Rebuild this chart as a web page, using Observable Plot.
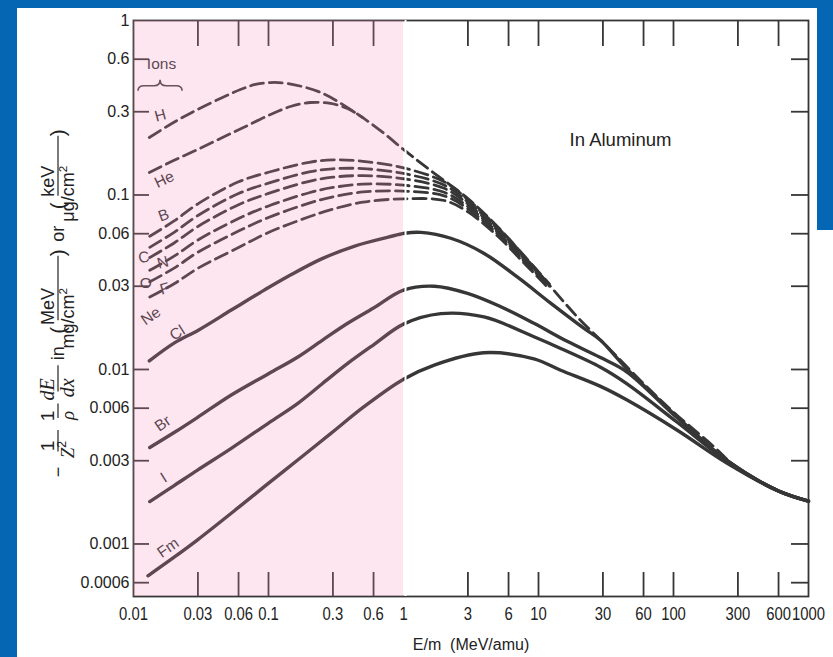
<!DOCTYPE html>
<html>
<head>
<meta charset="utf-8">
<title>Stopping power of ions in aluminum</title>
<script src="https://cdn.jsdelivr.net/npm/d3@7"></script>
<script src="https://cdn.jsdelivr.net/npm/@observablehq/plot@0.6"></script>
<style>
  html, body { margin: 0; padding: 0; background: #fff; }
  #page { position: relative; width: 833px; height: 657px; overflow: hidden; background: #fff; }
  #chart { position: absolute; left: 0; top: 0; }
  .edge { position: absolute; background: #0567b3; }
</style>
</head>
<body>
<div id="page">
  <div id="chart"></div>
  <div class="edge" style="left:0;top:0;width:17px;height:657px"></div>
  <div class="edge" style="left:0;top:0;width:833px;height:8px"></div>
  <div class="edge" style="left:817px;top:0;width:16px;height:230px"></div>
</div>
<script>
// Reduced stopping power -(1/Z²)(1/ρ)dE/dx versus energy per nucleon E/m (MeV/amu)

const H_E = [0.0131, 0.0198, 0.0298, 0.0456, 0.062, 0.080, 0.1035, 0.138, 0.243, 0.426, 0.675, 1.02, 1.59, 3, 5, 8.75, 19.4, 30, 60, 100, 200, 300, 600, 1000];
const H_S = [0.2136, 0.2603, 0.309, 0.362, 0.402, 0.430, 0.441, 0.4355, 0.387, 0.301, 0.234, 0.180, 0.138, 0.0953, 0.0656, 0.0405, 0.020, 0.0143, 0.0083, 0.0057, 0.0036, 0.0027, 0.00202, 0.00176];

const He_E = [0.0131, 0.0198, 0.0298, 0.0456, 0.0676, 0.1035, 0.1455, 0.205, 0.288, 0.385, 0.497];
const He_S = [0.1346, 0.1576, 0.1823, 0.2136, 0.2469, 0.2892, 0.3214, 0.3389, 0.3345, 0.3131, 0.278];

const light_E = [0.0132, 0.02, 0.03, 0.06, 0.1, 0.2, 0.3, 0.5, 1, 2, 3, 5, 8, 12];
const B_S  = [0.058, 0.071, 0.089, 0.119, 0.135, 0.154, 0.159, 0.156, 0.143, 0.119, 0.094, 0.065, 0.044, 0.031];
const C_S  = [0.0501, 0.0611, 0.0763, 0.1019, 0.1169, 0.1355, 0.1413, 0.1416, 0.1328, 0.1140, 0.0913, 0.0637, 0.0432, 0.0307];
const N_S  = [0.0438, 0.0531, 0.0660, 0.0879, 0.1021, 0.1198, 0.1265, 0.1291, 0.1239, 0.1092, 0.0888, 0.0624, 0.0425, 0.0305];
const O_S  = [0.0370, 0.0446, 0.0552, 0.0733, 0.0865, 0.1030, 0.1104, 0.1153, 0.1138, 0.1036, 0.0859, 0.0610, 0.0417, 0.0301];
const F_S  = [0.0318, 0.0381, 0.0470, 0.0621, 0.0743, 0.0898, 0.0976, 0.1041, 0.1052, 0.0989, 0.0833, 0.0596, 0.0409, 0.0299];
const Ne_S = [0.026, 0.031, 0.038, 0.050, 0.061, 0.075, 0.083, 0.091, 0.095, 0.093, 0.080, 0.058, 0.040, 0.029];

const Cl_E = [0.0131, 0.0201, 0.0302, 0.053, 0.093, 0.14, 0.245, 0.43, 0.77, 1.02, 1.35, 2.24, 3.93, 7.0, 12.3, 21.5, 28.8, 45, 100, 250, 600, 1000];
const Cl_S = [0.0112, 0.0142, 0.0168, 0.0219, 0.0285, 0.0342, 0.0429, 0.0508, 0.0573, 0.0604, 0.0611, 0.0565, 0.0464, 0.0338, 0.0240, 0.0173, 0.0147, 0.0101, 0.0056, 0.0030, 0.00201, 0.00176];

const Br_E = [0.0132, 0.02, 0.03, 0.053, 0.1, 0.165, 0.25, 0.386, 0.6, 1, 1.69, 2.98, 5.25, 9.25, 16.3, 28.8, 45, 106, 250, 600, 1000];
const Br_S = [0.00357, 0.00435, 0.00533, 0.00714, 0.00946, 0.0118, 0.0147, 0.0184, 0.0225, 0.0285, 0.0300, 0.0273, 0.0229, 0.0184, 0.0145, 0.0117, 0.0097, 0.0053, 0.0030, 0.00201, 0.00176];

const I_E = [0.0132, 0.02, 0.03, 0.053, 0.1, 0.165, 0.25, 0.386, 0.6, 1, 1.89, 3.95, 9.25, 14.6, 28.8, 45, 106, 250, 600, 1000];
const I_S = [0.00175, 0.00216, 0.00266, 0.00353, 0.00493, 0.0064, 0.00828, 0.01083, 0.01385, 0.0182, 0.0209, 0.0200, 0.0154, 0.0132, 0.0103, 0.0083, 0.0050, 0.00298, 0.00201, 0.00176];

const Fm_E = [0.0128, 0.02, 0.03, 0.06, 0.093, 0.17, 0.29, 0.51, 1, 1.69, 3.93, 9.25, 14.6, 28.8, 45.3, 106, 250, 600, 1000];
const Fm_S = [0.000657, 0.00084, 0.00106, 0.00162, 0.00213, 0.00309, 0.0043, 0.00612, 0.0088, 0.0106, 0.01247, 0.0115, 0.0099, 0.0080, 0.00668, 0.0045, 0.0029, 0.00201, 0.00176];

const xTicks = [0.01, 0.03, 0.06, 0.1, 0.3, 0.6, 1, 3, 6, 10, 30, 60, 100, 300, 600, 1000];
const xTickLabels = ["0.01", "0.03", "0.06", "0.1", "0.3", "0.6", "1", "3", "6", "10", "30", "60", "100", "300", "600", "1000"];
const yTicks = [1, 0.6, 0.3, 0.1, 0.06, 0.03, 0.01, 0.006, 0.003, 0.001, 0.0006];
const yTickLabels = ["1", "0.6", "0.3", "0.1", "0.06", "0.03", "0.01", "0.006", "0.003", "0.001", "0.0006"];

const shadedRange = [0.01, 1];
const xTitle = "E/m  (MeV/amu)";
const groupTitle = "Ions";
const material = "In Aluminum";

const series = [
  {ion: "H",  E: H_E,     S: H_S,  dashed: true},
  {ion: "He", E: He_E,    S: He_S, dashed: true},
  {ion: "B",  E: light_E, S: B_S,  dashed: true},
  {ion: "C",  E: light_E, S: C_S,  dashed: true},
  {ion: "N",  E: light_E, S: N_S,  dashed: true},
  {ion: "O",  E: light_E, S: O_S,  dashed: true},
  {ion: "F",  E: light_E, S: F_S,  dashed: true},
  {ion: "Ne", E: light_E, S: Ne_S, dashed: true},
  {ion: "Cl", E: Cl_E,    S: Cl_S, dashed: false},
  {ion: "Br", E: Br_E,    S: Br_S, dashed: false},
  {ion: "I",  E: I_E,     S: I_S,  dashed: false},
  {ion: "Fm", E: Fm_E,    S: Fm_S, dashed: false}
];
const rows = series.flatMap(s => s.E.map((e, i) => ({ion: s.ion, E: e, S: s.S[i], dashed: s.dashed})));

const sans = "'Liberation Sans', Arial, Helvetica, sans-serif";
const serif = "'Liberation Serif', 'Times New Roman', serif";
const ink = "#363636";
const energyLabelSize = 19;

const xLabelOf = new Map(xTicks.map((v, i) => [v, xTickLabels[i]]));
const yLabelOf = new Map(yTicks.map((v, i) => [v, yTickLabels[i]]));
const innerX = xTicks.filter(v => v > 0.01 && v < 1000 && v !== 1);
const innerY = yTicks.filter(v => v < 1);

// where each ion's name sits relative to the start of its curve
const namePlacement = {
  H:  {dx: 11, dy: -22, rotate: -15},
  He: {dx: 15, dy: 7,   rotate: -25},
  B:  {dx: 14, dy: -21, rotate: -20},
  C:  {dx: -6, dy: 10,  rotate: -10},
  N:  {dx: 13, dy: 5,   rotate: -15},
  O:  {dx: -4, dy: 13,  rotate: 0},
  F:  {dx: 15, dy: 7,   rotate: -15},
  Ne: {dx: 1,  dy: 19,  rotate: -35},
  Cl: {dx: 28, dy: -28, rotate: -32},
  Br: {dx: 13, dy: -24, rotate: -35},
  I:  {dx: 14, dy: -24, rotate: -32},
  Fm: {dx: 20, dy: -28, rotate: -35}
};
const nameMarks = series.map(s => Plot.text([s], {
  x: d => d.E[0], y: d => d.S[0], text: d => d.ion,
  dx: namePlacement[s.ion].dx, dy: namePlacement[s.ion].dy, rotate: namePlacement[s.ion].rotate,
  fontSize: 15.5, fontFamily: sans, fill: ink
}));

const chart = Plot.plot({
  width: 833,
  height: 657,
  marginTop: 20,
  marginRight: 25,
  marginBottom: 61,
  marginLeft: 133,
  x: {type: "log", domain: [0.01, 1000], axis: null},
  y: {type: "log", domain: [0.0005, 1], axis: null},
  style: {background: "transparent", fontFamily: sans, color: "#222", overflow: "visible"},
  marks: [
    Plot.line(rows.filter(d => d.dashed), {x: "E", y: "S", z: "ion", stroke: ink, strokeWidth: 2.8, strokeDasharray: "13,6", curve: "catmull-rom"}),
    Plot.line(rows.filter(d => !d.dashed), {x: "E", y: "S", z: "ion", stroke: ink, strokeWidth: 3.4, curve: "catmull-rom"}),
    ...nameMarks,
    Plot.text([groupTitle], {frameAnchor: "top-left", dx: 28, dy: 44, textAnchor: "middle", lineAnchor: "middle", text: d => d, fontSize: 15.5, fontFamily: sans, fill: ink}),
    Plot.text([material], {frameAnchor: "top-right", dx: -188, dy: 120, textAnchor: "middle", lineAnchor: "middle", text: d => d, fontSize: 18.5, fontFamily: sans, fill: "#222"}),
    // tick marks pointing into the frame on all four sides
    Plot.axisY(innerY, {anchor: "left", tickSize: 16, dx: 16, fill: "none", label: null, stroke: ink, strokeWidth: 1.8}),
    Plot.axisY(innerY, {anchor: "right", tickSize: 18, dx: -18, fill: "none", label: null, stroke: ink, strokeWidth: 1.8}),
    Plot.axisX(innerX, {anchor: "bottom", tickSize: 24, dy: -24, fill: "none", label: null, stroke: ink, strokeWidth: 1.8}),
    Plot.axisX(innerX, {anchor: "top", tickSize: 25, dy: 25, fill: "none", label: null, stroke: ink, strokeWidth: 1.8}),
    // tick labels
    Plot.text(yTicks, {y: d => d, frameAnchor: "left", textAnchor: "end", lineAnchor: "middle", dx: -4, text: d => yLabelOf.get(d), fontSize: 16, fontFamily: sans, fill: "#222"}),
    Plot.text(xTicks, {x: d => d, frameAnchor: "bottom", textAnchor: "middle", lineAnchor: "top", dy: 10, text: d => xLabelOf.get(d), fontSize: energyLabelSize, fontFamily: sans, fill: "#222"}),
    Plot.text([xTitle], {frameAnchor: "bottom", dy: 48, textAnchor: "middle", lineAnchor: "middle", text: d => d, fontSize: 16, fontFamily: sans, fill: "#222"}),
    Plot.frame({stroke: ink, strokeWidth: 1.8}),
    // translucent pink tint over the low-energy region
    Plot.rect([shadedRange], {x1: d => d[0], x2: d => d[1], fill: "rgb(245,136,184)", fillOpacity: 0.21}),
    Plot.ruleX([shadedRange[1]], {stroke: "white", strokeWidth: 2, dx: 2})
  ]
});
document.getElementById("chart").append(chart);

const svg = d3.select(chart);

// condensed face for the energy tick labels (the only 19px text group)
svg.selectAll("g").filter(function () {
  return +this.getAttribute("font-size") === energyLabelSize;
}).selectAll("text").each(function () {
  const w = this.getComputedTextLength();
  if (w > 0) {
    this.setAttribute("textLength", (w * 0.78).toFixed(2));
    this.setAttribute("lengthAdjust", "spacingAndGlyphs");
  }
});

const sx = chart.scale("x");
const sy = chart.scale("y");
const fx = sx.apply ? v => sx.apply(v) : d3.scaleLog(sx.domain, sx.range);
const fy = sy.apply ? v => sy.apply(v) : d3.scaleLog(sy.domain, sy.range);

// curly brace under the "Ions" heading
{
  const x0 = fx(0.0109), x1 = fx(0.0231), xm = (x0 + x1) / 2;
  const yb = fy(0.42), y0 = yb + 5, tip = yb - 6;
  svg.append("path")
    .attr("d", `M${x0},${y0} Q${x0},${yb} ${x0 + 6},${yb} L${xm - 6},${yb} Q${xm},${yb} ${xm},${tip} Q${xm},${yb} ${xm + 6},${yb} L${x1 - 6},${yb} Q${x1},${yb} ${x1},${y0}`)
    .attr("fill", "none").attr("stroke", "#6a515b").attr("stroke-width", 1.6);
}

// vertical axis title, set as stacked fractions and rotated
{
  const g = svg.append("g").attr("transform", "translate(58,472) rotate(-90)").attr("fill", "#222");
  let cur = 0;
  const make = (parts, x, y, size) => {
    const el = g.append("text").attr("x", x).attr("y", y).attr("font-size", size).attr("font-family", sans);
    for (const p of parts) {
      const ts = el.append("tspan").text(p.t);
      if (p.serif) ts.attr("font-family", serif);
      if (p.italic) ts.attr("font-style", "italic");
      if (p.sup) ts.attr("font-size", size * 0.65).attr("dy", -size * 0.4);
    }
    return el;
  };
  const word = (parts, size, gap, y = 6) => {
    const el = make(parts, cur, y, size);
    cur += el.node().getComputedTextLength() + gap;
  };
  const frac = (num, den, size, gap) => {
    const a = make(num, 0, -4, size), b = make(den, 0, 16, size);
    const wa = a.node().getComputedTextLength(), wb = b.node().getComputedTextLength();
    const w = Math.max(wa, wb) + 4;
    a.attr("x", cur + (w - wa) / 2);
    b.attr("x", cur + (w - wb) / 2);
    g.append("line").attr("x1", cur).attr("x2", cur + w).attr("y1", 0).attr("y2", 0)
      .attr("stroke", "#222").attr("stroke-width", 1.2);
    cur += w + gap;
  };
  word([{t: "\u2212"}], 18, 10);
  frac([{t: "1"}], [{t: "Z", serif: true, italic: true}, {t: "2", sup: true}], 19, 12);
  frac([{t: "1"}], [{t: "\u03c1", serif: true, italic: true}], 19, 12);
  frac([{t: "dE", serif: true, italic: true}], [{t: "dx", serif: true, italic: true}], 20, 12);
  word([{t: "in"}], 18, 9);
  word([{t: "("}], 21, 3, 7);
  frac([{t: "MeV"}], [{t: "mg/cm"}, {t: "2", sup: true}], 18, 3);
  word([{t: ")"}], 21, 12, 7);
  word([{t: "or"}], 18, 12);
  word([{t: "("}], 21, 3, 7);
  frac([{t: "keV"}], [{t: "\u03bcg/cm"}, {t: "2", sup: true}], 18, 3);
  word([{t: ")"}], 21, 0, 7);
}
</script>
</body>
</html>
